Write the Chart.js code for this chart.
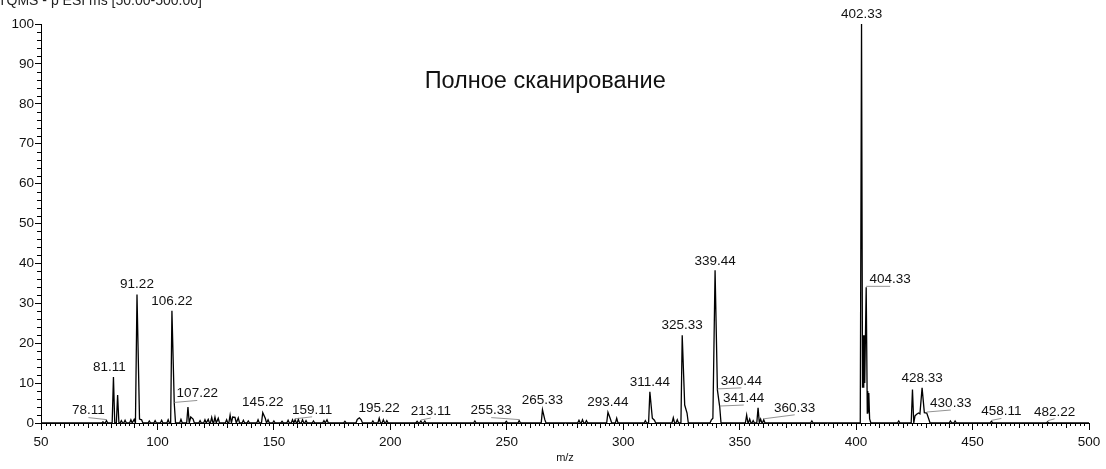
<!DOCTYPE html>
<html>
<head>
<meta charset="utf-8">
<script src="https://cdn.jsdelivr.net/npm/chart.js@4/dist/chart.umd.min.js"></script>
<style>
  html, body { margin: 0; padding: 0; background: #fff; }
  #wrap { width: 1106px; height: 469px; }
</style>
</head>
<body>
<div id="wrap"><canvas id="spectrum"></canvas></div>
<script>
// peak apexes: m/z and relative abundance (%)
const peakMz = [
  76.6, 78.11, 81.11, 82.9, 84.5, 86.1, 88.6, 90.0, 91.22, 92.3, 93.2, 96.5, 99.0, 101.8, 104.6,
  106.22, 107.22, 110.1, 113.1, 114.3, 115.3, 118.3, 120.4, 121.8, 123.3, 124.7, 126.1, 129.7,
  131.2, 132.3, 133.3, 134.7, 136.9, 139.0, 143.2, 145.22, 146.3, 147.5, 150.0, 153.5, 156.1,
  158.0, 159.11, 160.5, 162.3, 163.8, 167.0, 171.5, 172.8, 180.5, 185.8, 186.7, 187.5, 192.5,
  195.22, 197.0, 198.5, 211.5, 213.11, 214.8, 236.3, 249.8, 255.33, 265.33, 266.3, 281.0, 282.5,
  284.2, 293.44, 294.5, 297.2, 309.5, 311.44, 312.5, 313.4, 321.5, 323.2, 325.33, 326.4, 327.4,
  337.8, 338.5, 339.44, 340.44, 341.44, 353.0, 354.3, 355.8, 357.9, 359.0, 360.33, 381.0,
  402.33, 402.75, 402.9, 403.05, 403.2, 403.35, 403.5, 403.7, 404.33, 404.8, 405.0, 405.2, 405.45,
  405.8, 418.3, 424.2, 425.3, 426.0, 426.8, 427.4, 428.33, 429.3, 430.33, 431.2, 440.5, 442.5,
  458.11, 482.22
]
const peakInt = [
  0.3, 0.6, 11.5, 7.0, 0.6, 0.7, 0.8, 0.9, 32.2, 1.0, 0.8, 0.5, 0.6, 0.7, 0.8,
  28.1, 4.9, 0.9, 4.0, 1.5, 1.0, 0.6, 0.8, 0.9, 1.4, 1.5, 1.2, 0.8,
  2.0, 1.5, 1.4, 1.3, 0.7, 0.5, 0.8, 2.6, 1.2, 0.8, 0.5, 0.4, 0.7,
  0.8, 0.8, 0.9, 0.8, 0.6, 0.5, 0.6, 0.8, 0.4, 0.9, 1.3, 0.8, 0.5,
  1.2, 0.8, 0.6, 0.4, 0.5, 0.5, 0.5, 0.4, 0.6, 3.3, 0.9, 0.7, 0.8,
  0.6, 2.7, 1.0, 1.2, 0.6, 7.8, 1.2, 0.7, 1.3, 0.8, 22.0, 4.5, 2.5,
  0.7, 1.2, 38.3, 8.3, 4.0, 2.0, 1.0, 0.6, 3.8, 1.0, 0.8, 0.5,
  100, 9, 22, 9, 22, 9, 22, 10, 34, 2.5, 8, 2.8, 7.5,
  1, 0.5, 8.4, 1.8, 2.2, 2.5, 2.3, 8.8, 2.6, 2.5, 1.0, 0.5, 0.5,
  0.4, 0.3
]
// peaks that carry an m/z label
const labeledMz = [
  78.11, 81.11, 91.22, 106.22, 107.22, 145.22, 159.11, 195.22, 213.11, 255.33, 265.33,
  293.44, 311.44, 325.33, 339.44, 340.44, 341.44, 360.33, 402.33, 404.33, 428.33,
  430.33, 458.11, 482.22
]
const xTicks = { min: 50, max: 500, step: 50 }
const yTicks = { min: 0, max: 100, step: 10 }
const headerText = 'TQMS - p ESI ms [50.00-500.00]'
const titleText = 'Полное сканирование'

// styling
const FONT = '"Liberation Sans", Arial, Helvetica, sans-serif'
const halfWidth = 0.55
// horizontal shift (px) of labels that sit off their peak with a leader line
const labelShift = {
  78.11: -18, 81.11: -4, 107.22: 23, 159.11: 17, 213.11: 10, 255.33: -28,
  340.44: 24, 341.44: 24, 360.33: 31, 404.33: 24, 430.33: 24, 458.11: 10, 482.22: 7
}
const labelLift = { 360.33: 12, 339.44: 9, 341.44: 9, 340.44: 9, 404.33: 8 }
const titleAt = { x: 266.5, y: 85.6 }

function buildProfile() {
  const pts = [{ x: xTicks.min, y: 0 }]
  peakMz.forEach((m, i) => {
    const prev = peakMz[i - 1]
    const next = peakMz[i + 1]
    if (prev === undefined || m - prev >= 2 * halfWidth) pts.push({ x: m - halfWidth, y: 0 })
    pts.push({ x: m, y: peakInt[i] })
    if (next === undefined || next - m >= 2 * halfWidth) pts.push({ x: m + halfWidth, y: 0 })
  })
  pts.push({ x: xTicks.max, y: 0 })
  return pts
}

const minorTicks = {
  id: 'minorTicks',
  afterDraw(chart) {
    const { ctx, chartArea } = chart
    const xs = chart.scales.x
    const ys = chart.scales.y
    ctx.save()
    ctx.strokeStyle = '#000'
    ctx.lineWidth = 1
    ctx.beginPath()
    for (let v = yTicks.min; v <= yTicks.max; v += 2) {
      if (v % yTicks.step === 0) continue
      const py = Math.round(ys.getPixelForValue(v)) + 0.5
      ctx.moveTo(chartArea.left - 4, py)
      ctx.lineTo(chartArea.left, py)
    }
    for (let v = xTicks.min; v <= xTicks.max; v += 2) {
      if (v % xTicks.step === 0) continue
      const px = Math.round(xs.getPixelForValue(v)) + 0.5
      const len = v % 10 === 0 ? 5 : 3
      ctx.moveTo(px, chartArea.bottom)
      ctx.lineTo(px, chartArea.bottom + len)
    }
    ctx.stroke()
    ctx.restore()
  }
}

const peakLabels = {
  id: 'peakLabels',
  afterDatasetsDraw(chart) {
    const { ctx } = chart
    const xs = chart.scales.x
    const ys = chart.scales.y
    ctx.save()
    ctx.font = '13.5px ' + FONT
    ctx.textAlign = 'center'
    ctx.textBaseline = 'middle'
    labeledMz.forEach(m => {
      const h = peakInt[peakMz.indexOf(m)]
      const px = xs.getPixelForValue(m)
      const py = ys.getPixelForValue(h)
      const dx = labelShift[m] || 0
      const tx = px + dx
      const ty = py - (labelLift[m] || 10)
      if (Math.abs(dx) > 6) {
        ctx.strokeStyle = '#777'
        ctx.lineWidth = 0.8
        ctx.beginPath()
        ctx.moveTo(tx, ty + 7)
        ctx.lineTo(px, py - 1)
        ctx.stroke()
      }
      ctx.fillStyle = '#111'
      ctx.fillText(m.toFixed(2), tx, ty)
    })
    // header and title
    ctx.textAlign = 'left'
    ctx.textBaseline = 'alphabetic'
    ctx.font = '14px ' + FONT
    ctx.fillStyle = '#222'
    ctx.fillText(headerText, -2, 5)
    ctx.textAlign = 'center'
    ctx.textBaseline = 'middle'
    ctx.font = '23.5px ' + FONT
    ctx.fillStyle = '#111'
    ctx.fillText(titleText, xs.getPixelForValue(titleAt.x), ys.getPixelForValue(titleAt.y))
    ctx.restore()
  }
}

new Chart(document.getElementById('spectrum'), {
  type: 'scatter',
  data: {
    datasets: [{
      data: buildProfile(),
      showLine: true,
      borderColor: '#000',
      borderWidth: 1.3,
      pointRadius: 0,
      tension: 0,
      fill: false
    }]
  },
  options: {
    responsive: true,
    maintainAspectRatio: false,
    animation: false,
    layout: { padding: { top: 24, right: 17, left: 0, bottom: 0 } },
    plugins: { legend: { display: false }, tooltip: { enabled: false } },
    scales: {
      x: {
        type: 'linear',
        min: xTicks.min,
        max: xTicks.max,
        afterFit: s => { s.height = 46 },
        ticks: { stepSize: xTicks.step, color: '#111', padding: 4, font: { family: FONT, size: 13.5 } },
        grid: { drawOnChartArea: false, drawTicks: true, tickLength: 7, color: '#000' },
        border: { color: '#000', width: 1 },
        title: { display: true, text: 'm/z', color: '#111', font: { family: FONT, size: 11 }, padding: { top: 0, bottom: 4 } }
      },
      y: {
        min: yTicks.min,
        max: yTicks.max,
        afterFit: s => { s.width = 41 },
        ticks: { stepSize: yTicks.step, color: '#111', padding: 1, font: { family: FONT, size: 13.5 } },
        grid: { drawOnChartArea: false, drawTicks: true, tickLength: 6, color: '#000' },
        border: { color: '#000', width: 1 }
      }
    }
  },
  plugins: [minorTicks, peakLabels]
})
</script>
</body>
</html>
